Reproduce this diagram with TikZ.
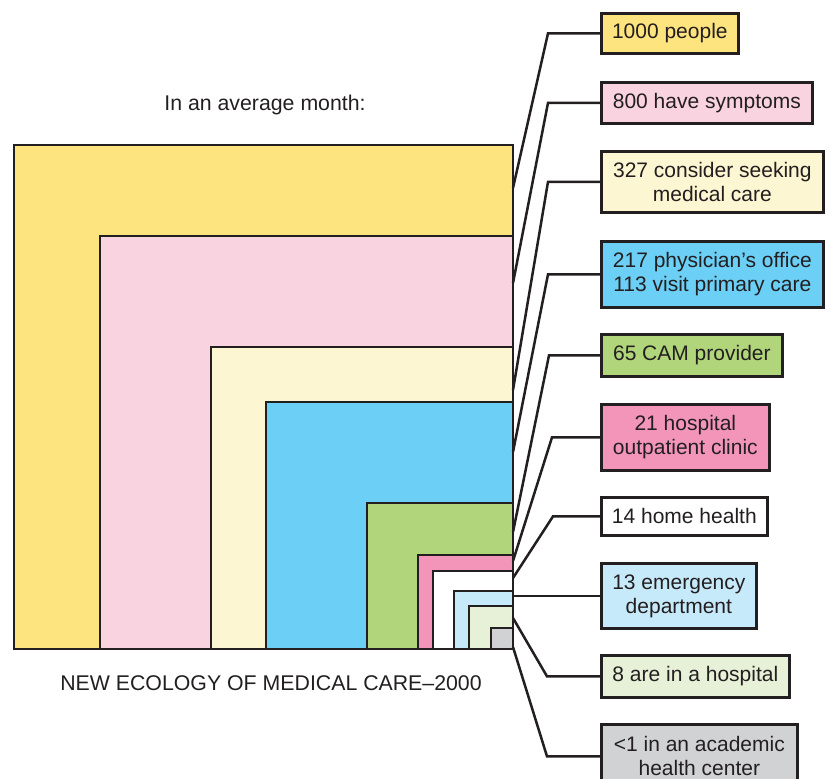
\documentclass[tikz,border=0pt]{standalone}
\usepackage{fontspec}
\setmainfont{Liberation Sans}
\definecolor{inkc}{HTML}{231F20}
\definecolor{cYellow}{HTML}{FDE47F}
\definecolor{cPink}{HTML}{F9D3E0}
\definecolor{cCream}{HTML}{FDF6D3}
\definecolor{cBlue}{HTML}{6BCFF6}
\definecolor{cGreen}{HTML}{B0D57A}
\definecolor{cRose}{HTML}{F295B8}
\definecolor{cWhite}{HTML}{FFFFFF}
\definecolor{cSky}{HTML}{C7EAFB}
\definecolor{cMint}{HTML}{E6F1D8}
\definecolor{cGray}{HTML}{D1D2D4}
\begin{document}
\begin{tikzpicture}[x=1pt,y=-1pt,
  tier/.style={draw=inkc, line width=2.8pt, line join=miter},
  tag/.style={draw=inkc, line width=2.7pt, anchor=north west, inner sep=0pt,
    align=center, font=\fontsize{21}{24}\selectfont, text=inkc},
  lead/.style={draw=inkc, line width=2.5pt, line join=miter},
  caption/.style={font=\fontsize{21.3}{24}\selectfont, text=inkc}]
\useasboundingbox (0,0) rectangle (828,779);

% nested squares sharing the lower right corner
\draw[tier, fill=cYellow] (14,145)  rectangle (513,649);
\draw[tier, fill=cPink]   (100,236) rectangle (513,649);
\draw[tier, fill=cCream]  (211,347) rectangle (513,649);
\draw[tier, fill=cBlue]   (266,402) rectangle (513,649);
\draw[tier, fill=cGreen]  (367,503) rectangle (513,649);
\draw[tier, fill=cRose]   (418,555) rectangle (513,649);
\draw[tier, fill=cWhite]  (433,571) rectangle (513,649);
\draw[tier, fill=cSky]    (454,591) rectangle (513,649);
\draw[tier, fill=cMint]   (469,606) rectangle (513,649);
\draw[tier, fill=cGray]   (491,628) rectangle (513,649);

% points on the right edge where the leaders meet each band
\coordinate (e1)  at (513,188);
\coordinate (e2)  at (513,283);
\coordinate (e3)  at (513,390);
\coordinate (e4)  at (513,452);
\coordinate (e5)  at (513,532);
\coordinate (e6)  at (513,561);
\coordinate (e7)  at (513,578);
\coordinate (e8)  at (513,594);
\coordinate (e9)  at (513,618);
\coordinate (e10) at (513,647);

% titles
\node[caption] (head) at (265,105) {In an average month:};
\node[caption] (foot) at (271,683) {NEW ECOLOGY OF MEDICAL CARE--2000};

% label boxes
\node[tag, fill=cYellow, minimum width=137pt, minimum height=40pt] (t1)  at (600,12)  {1000 people};
\node[tag, fill=cPink,   minimum width=211pt, minimum height=41pt] (t2)  at (600,81)  {800 have symptoms};
\node[tag, fill=cCream,  minimum width=222pt, minimum height=61pt] (t3)  at (600,150) {327 consider seeking\\medical care};
\node[tag, fill=cBlue,   minimum width=222pt, minimum height=66pt] (t4)  at (600,240) {217 physician’s office\\113 visit primary care};
\node[tag, fill=cGreen,  minimum width=181pt, minimum height=42pt] (t5)  at (600,333) {65 CAM provider};
\node[tag, fill=cRose,   minimum width=168pt, minimum height=66pt] (t6)  at (600,403) {21 hospital\\outpatient clinic};
\node[tag, fill=cWhite,  minimum width=166pt, minimum height=38pt] (t7)  at (600,496) {14 home health};
\node[tag, fill=cSky,    minimum width=155pt, minimum height=65pt] (t8)  at (600,562) {13 emergency\\department};
\node[tag, fill=cMint,   minimum width=188pt, minimum height=42pt] (t9)  at (600,654) {8 are in a hospital};
\node[tag, fill=cGray,   minimum width=196pt, minimum height=64pt] (t10) at (600,723) {<1 in an academic\\health center};

% leaders from each box to its band
\draw[lead] (t1.west)  -- ++(-52,0) -- (e1);
\draw[lead] (t2.west)  -- ++(-52,0) -- (e2);
\draw[lead] (t3.west)  -- ++(-52,0) -- (e3);
\draw[lead] (t4.west)  -- ++(-52,0) -- (e4);
\draw[lead] (t5.west)  -- ++(-51,0) -- (e5);
\draw[lead] (t6.west)  -- ++(-48,0) -- (e6);
\draw[lead] (t7.west)  -- ++(-47,0) -- (e7);
\draw[lead] (t8.west)  -- (t8.west -| e8);
\draw[lead] (t9.west)  -- ++(-53,0) -- (e9);
\draw[lead] (t10.west) -- ++(-53,0) -- (e10);
\end{tikzpicture}
\end{document}
